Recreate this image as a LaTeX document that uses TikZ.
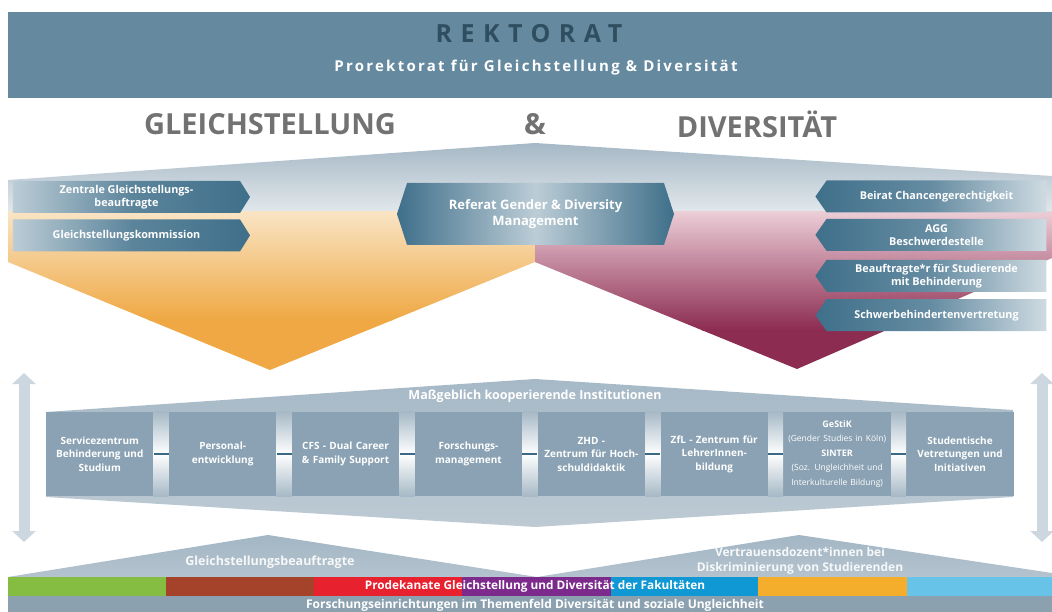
\documentclass[tikz,border=0pt]{standalone}
\usepackage{fontspec}
\setmainfont{Open Sans}
\newfontfamily\rekfont[LetterSpace=34]{Open Sans}
\newfontfamily\prorekfont[LetterSpace=15]{Open Sans}
\usetikzlibrary{positioning,shapes.symbols,arrows.meta}
\definecolor{headblue}{HTML}{658AA0}
\definecolor{headdark}{HTML}{2F4E60}
\definecolor{titlegray}{HTML}{727272}
\definecolor{roofblue}{HTML}{A3B6C4}
\definecolor{roofpale}{HTML}{E2E8EC}
\definecolor{cream}{HTML}{F9E4C4}
\definecolor{gsorange}{HTML}{EFA843}
\definecolor{pinkpale}{HTML}{EBCDD6}
\definecolor{divred}{HTML}{8C2C51}
\definecolor{arrowteal}{HTML}{3F6F8A}
\definecolor{bandtop}{HTML}{A6B9C6}
\definecolor{bandbottom}{HTML}{BDCAD4}
\definecolor{boxblue}{HTML}{8AA2B3}
\definecolor{linkblue}{HTML}{3A6A86}
\definecolor{sidegray}{HTML}{CCD7DF}
\definecolor{footpale}{HTML}{B4C3CE}
\definecolor{footblue}{HTML}{8CA1B0}
\definecolor{fgreen}{HTML}{84BD41}
\definecolor{fbrown}{HTML}{A5432A}
\definecolor{fred}{HTML}{E8212F}
\definecolor{fpurple}{HTML}{7C2B8D}
\definecolor{fblue}{HTML}{0F98D3}
\definecolor{forange}{HTML}{F5AE2B}
\definecolor{flight}{HTML}{67C3E8}
\begin{document}
\begin{tikzpicture}[x=1pt, y=-1pt, line join=round,
    headline/.style={text=titlegray, font=\bfseries\fontsize{29}{32}\selectfont},
    leftsig/.style={shape=signal, signal to=east, signal pointer angle=116, minimum width=237pt, minimum height=32pt, inner sep=2pt, text=white, align=center, font=\bfseries\fontsize{10.8}{13}\selectfont, left color=arrowteal!35!white, right color=arrowteal, middle color=arrowteal!85!white},
    rightsig/.style={shape=signal, signal to=west, signal pointer angle=110, minimum width=231pt, minimum height=32pt, inner sep=2pt, text=white, align=center, font=\bfseries\fontsize{10.8}{13}\selectfont, left color=arrowteal, right color=arrowteal!25!white, middle color=arrowteal!80!white},
    instbox/.style={fill=boxblue, text=white, text width=100pt, inner sep=3.75pt, minimum height=84pt, align=center, font=\bfseries\fontsize{10}{13.5}\selectfont},
    link/.style={draw=linkblue, line width=2pt},
    sidearrow/.style={draw=sidegray, line width=11pt, {Triangle[length=11pt,width=23pt]}-{Triangle[length=11pt,width=23pt]}},
    foottext/.style={text=white!90!roofblue, align=center, font=\bfseries\fontsize{12}{15}\selectfont}]
    \useasboundingbox (0,0) rectangle (1052,612);
    %\draw[help lines] (0,0) grid[step=50] (1052,612);
    % Rektorat
    \fill[headblue] (8,12) rectangle (1052,98);
    \node[text=headdark, font=\rekfont\bfseries\fontsize{25}{30}\selectfont] (rek) at (529,34) {REKTORAT};
    \node[text=white, font=\prorekfont\bfseries\fontsize{15}{18}\selectfont] (prorek) at (536,68) {Prorektorat für Gleichstellung \& Diversität};
    \node[headline] (gs) at (270,124) {GLEICHSTELLUNG};
    \node[headline] (amp) at (535,124) {\&};
    \node[headline] (div) at (757,124) {DIVERSITÄT};
    % roof
    \begin{scope}
        \clip (8,180) -- (535,143) -- (1052,176) -- (1052,258) -- (797,369) -- (535,262) -- (270,370) -- (8,262) -- cycle;
        \shade[top color=roofblue, bottom color=roofpale] (0,140) rectangle (1052,212);
        \shade[top color=cream, bottom color=gsorange] (0,212) rectangle (535,320);
        \fill[gsorange] (0,319.5) rectangle (535,372);
        \shade[top color=pinkpale, bottom color=divred] (535,212) rectangle (1052,330);
        \fill[divred] (535,329.5) rectangle (1052,372);
    \end{scope}
    \node[leftsig] (zgb) at (126.5,197) {Zentrale Gleichstellungs-\\beauftragte};
    \node[leftsig, below=6pt of zgb] (gsk) {Gleichstellungskommission};
    \node[shape=signal, signal to=east and west, signal pointer angle=144, minimum width=277pt, minimum height=62pt, text=white, align=center, font=\bfseries\fontsize{13}{16.5}\selectfont, left color=arrowteal, right color=arrowteal, middle color=arrowteal!35!white] (ref) at (535.5,214) {Referat Gender \& Diversity\\Management};
    \node[rightsig] (beirat) at (936.5,196.5) {Beirat Chancengerechtigkeit};
    \node[rightsig, below=6pt of beirat] (agg) {AGG\\Beschwerdestelle};
    \node[rightsig, below=8.5pt of agg] (bsb) {Beauftragte*r für Studierende\\mit Behinderung};
    \node[rightsig, below=7pt of bsb] (sbv) {Schwerbehindertenvertretung};
    % side arrows
    \coordinate (lt) at (24,373);
    \coordinate (lb) at (24,542);
    \coordinate (rt) at (1042,373);
    \coordinate (rb) at (1042,542);
    \draw[sidearrow] (lt) -- (lb);
    \draw[sidearrow] (rt) -- (rb);
    % kooperierende Institutionen
    \shade[top color=bandtop, bottom color=bandbottom] (46,412) -- (535,379) -- (1013,410) -- (1013,497) -- (535,527) -- (46,497) -- cycle;
    \node[text=white, font=\bfseries\fontsize{12.5}{14}\selectfont] (koop) at (535,396) {Maßgeblich kooperierende Institutionen};
    \node[instbox] (svz) at (99.75,454) {Servicezentrum\\Behinderung und\\Studium};
    \node[instbox, right=15pt of svz] (pe) {Personal-\\entwicklung};
    \node[instbox, right=15pt of pe] (cfs) {CFS - Dual Career\\\& Family Support};
    \node[instbox, right=15pt of cfs] (fm) {Forschungs-\\management};
    \node[instbox, right=15pt of fm] (zhd) {ZHD -\\Zentrum für Hoch-\\schuldidaktik};
    \node[instbox, right=15pt of zhd] (zfl) {ZfL - Zentrum für\\LehrerInnen-\\bildung};
    \node[instbox, right=15pt of zfl, text width=106pt, inner sep=0.75pt, font=\bfseries\fontsize{9}{14.5}\selectfont] (gestik) {GeStiK\\{\mdseries\fontsize{8.5}{14.5}\selectfont (Gender Studies in Köln)}\\SINTER\\{\mdseries\fontsize{8.5}{14.5}\selectfont (Soz. Ungleichheit und}\\{\mdseries\fontsize{8.5}{14.5}\selectfont Interkulturelle Bildung)}};
    \node[instbox, right=15pt of gestik] (stud) {Studentische\\Vetretungen und\\Initiativen};
    \foreach \a/\b in {svz/pe, pe/cfs, cfs/fm, fm/zhd, zhd/zfl, zfl/gestik, gestik/stud}{
        \shade[top color=bandtop, bottom color=bandtop, middle color=white] (\a.north east) rectangle (\b.south west);
        \draw[link] (\a.east) -- (\b.west);
    }
    % Fakultaeten
    \shade[top color=roofblue, bottom color=footpale] (8,577) -- (268,535) -- (537,577) -- cycle;
    \shade[top color=roofblue, bottom color=footpale] (537,577) -- (799,535) -- (1052,573) -- (1052,577) -- cycle;
    \node[foottext, font=\bfseries\fontsize{12.5}{15}\selectfont] (gsb) at (270,562) {Gleichstellungsbeauftragte};
    \node[foottext] (vdz) at (800,561) {Vertrauensdozent*innen bei\\Diskriminierung von Studierenden};
    \foreach \x/\w/\c in {8/158/fgreen, 166/148/fbrown, 314/148/fred, 462/149/fpurple, 611/147/fblue, 758/149/forange, 907/145/flight}
        \fill[\c] (\x,577) rectangle ++(\w,19);
    \node[text=white, font=\bfseries\fontsize{11.8}{13}\selectfont] (pdk) at (535,586) {Prodekanate Gleichstellung und Diversität der Fakultäten};
    \fill[footblue] (8,596) rectangle (1052,612);
    \node[text=white, anchor=base, font=\bfseries\fontsize{12}{14}\selectfont] (fse) at (535,608.5) {Forschungseinrichtungen im Themenfeld Diversität und soziale Ungleichheit};
\end{tikzpicture}
\end{document}
